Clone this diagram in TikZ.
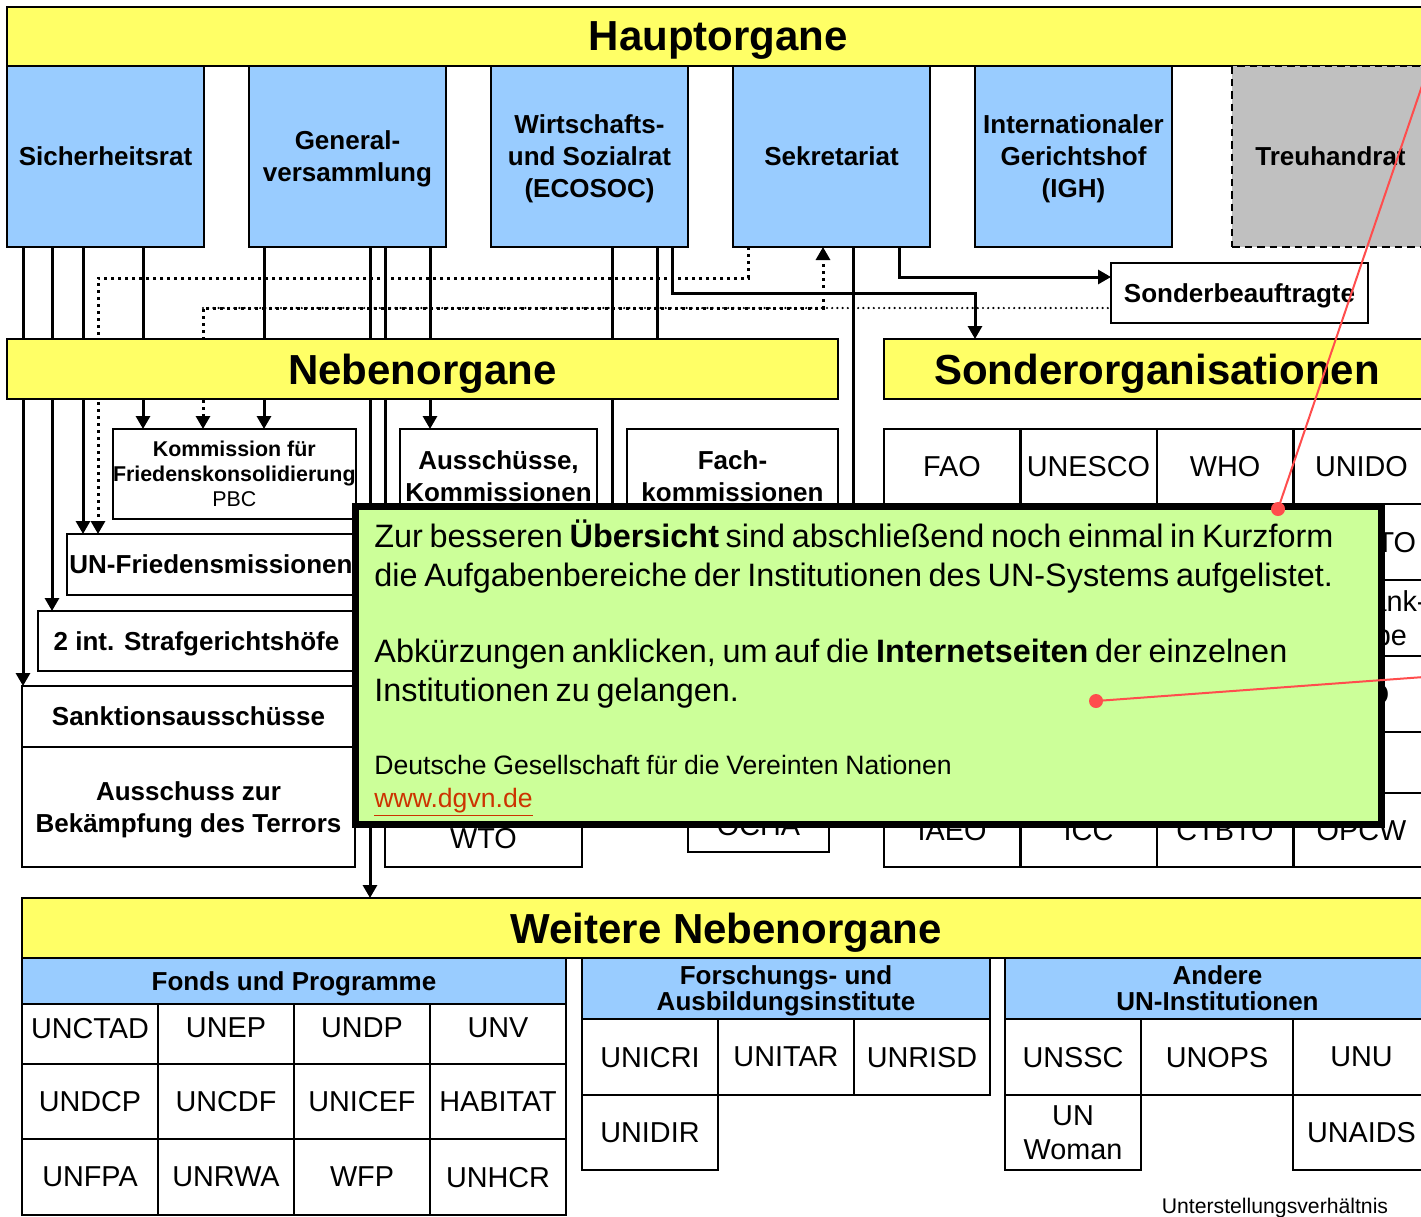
\documentclass[tikz,border=0pt]{standalone}
\usepackage{fontspec}
\setmainfont{Liberation Sans}
\usetikzlibrary{positioning,calc,arrows.meta}
\definecolor{baryellow}{HTML}{FFFF66}
\definecolor{organblue}{HTML}{99CCFF}
\definecolor{notegreen}{HTML}{CCFF99}
\definecolor{trustgray}{HTML}{C0C0C0}
\definecolor{pointred}{HTML}{FF4D4D}
\definecolor{linkred}{HTML}{CC3300}
\pgfdeclarelayer{background}
\pgfsetlayers{background,main}

\begin{document}
\begin{tikzpicture}[x=0.5pt, y=-0.5pt,
	barstyle/.style={draw, line width=1pt, fill=baryellow, minimum height=30pt,
	inner sep=0pt, outer sep=0pt, text depth=0pt, font=\fontsize{21}{25}\selectfont\bfseries},
	organstyle/.style={draw, line width=1pt, fill=organblue, minimum width=98.5pt,
	minimum height=90.5pt, inner sep=0pt, outer sep=0pt, align=center, text depth=0pt,
	font=\fontsize{13}{16}\selectfont\bfseries},
	boxstyle/.style={draw, line width=1pt, fill=white, inner sep=0pt, outer sep=0pt,
	align=center, text depth=0pt, font=\fontsize{13}{16}\selectfont\bfseries},
	cellstyle/.style={draw, line width=1pt, fill=white, minimum width=68pt,
	inner sep=0pt, outer sep=0pt, align=center, text depth=0pt, font=\fontsize{14.4}{17}\selectfont},
	headstyle/.style={draw, line width=1pt, fill=organblue, inner sep=0pt,
	outer sep=0pt, align=center, text depth=0pt, font=\fontsize{13}{13}\selectfont\bfseries},
	arrstyle/.style={line width=1.5pt, -{Triangle[width=7pt,length=6.5pt]}},
	dotstyle/.style={line width=1.5pt, dash pattern=on 1.5pt off 2pt},
	thindotstyle/.style={line width=1.2pt, line cap=round, dash pattern=on 0pt off 2.6pt},
	reddotstyle/.style={circle, fill=pointred, minimum size=7pt, inner sep=0pt},
	redstyle/.style={draw=pointred, line width=1pt}
	]
	\useasboundingbox (0,0) rectangle (1421,1217);
	\clip (0,0) rectangle (1421,1217);

	\node[barstyle, anchor=north west, minimum width=711.5pt, minimum height=29.5pt] (haupt) at (7,7) {Hauptorgane};
	\node[organstyle, anchor=north west] (sr) at (7,66) {Sicherheitsrat};
	\node[organstyle, right=22.5pt of sr] (ga) {General-\\versammlung};
	\node[organstyle, right=22.5pt of ga] (eco) {Wirtschafts-\\und Sozialrat\\(ECOSOC)};
	\node[organstyle, right=22.5pt of eco] (sek) {Sekretariat};
	\node[organstyle, right=22.5pt of sek] (igh) {Internationaler\\Gerichtshof\\(IGH)};
	\node[organstyle, right=30pt of igh, fill=trustgray, dash pattern=on 3.75pt off 2.5pt] (treu) {Treuhandrat};
	\node[boxstyle, anchor=north west, minimum width=128.5pt, minimum height=30pt] (sb) at (1111,263) {Sonderbeauftragte};

	\node[barstyle, anchor=north west, minimum width=415.5pt] (neben) at (7,339) {Nebenorgane};
	\node[barstyle, right=23pt of neben, minimum width=273pt] (sonder) {Sonderorganisationen};

	\node[boxstyle, anchor=north west, minimum width=121pt, minimum height=45pt,
	font=\fontsize{10.7}{12.5}\selectfont\bfseries] (pbc) at (113,429) {Kommission für\\Friedenskonsolidierung\\{\mdseries PBC}};
	\node[boxstyle, anchor=north west, minimum width=144pt, minimum height=30.5pt] (fried) at (67,534) {UN-Friedensmissionen};
	\node[boxstyle, anchor=north west, minimum width=158.5pt, minimum height=30pt] (straf) at (38,611) {2 int. Strafgerichtshöfe};
	\node[boxstyle, anchor=north west, minimum width=166.5pt, minimum height=30.5pt] (sank) at (22,686) {Sanktionsausschüsse};
	\node[boxstyle, below=0pt of sank, minimum width=166.5pt, minimum height=60pt] (terror) {Ausschuss zur\\Bekämpfung des Terrors};
	\node[boxstyle, anchor=north west, minimum width=98.5pt, minimum height=47pt] (aussch) at (400,429) {Ausschüsse,\\Kommissionen};
	\node[boxstyle, anchor=north west, minimum width=105.5pt, minimum height=47pt] (fach) at (627,429) {Fach-\\kommissionen};
	\node[cellstyle, anchor=north west, minimum width=98.5pt, minimum height=29pt] (wto) at (385,809) {WTO};
	\node[cellstyle, anchor=north west, minimum width=70.5pt, minimum height=27pt] (ocha) at (688,798) {OCHA};

	\foreach \name [count=\i from 0] in {FAO,UNESCO,WHO,UNIDO}
		\node[cellstyle, anchor=north west, minimum height=37.5pt] (soa\i) at (884+136.5*\i,429) {\name};
	\node[cellstyle, anchor=north west, minimum width=68.5pt, minimum height=38pt] (unwto) at (1293.5,504) {UNWTO};
	\node[cellstyle, below=0pt of unwto, minimum width=68.5pt, minimum height=38pt] (wb) {Weltbank-\\gruppe};
	\node[cellstyle, below=0pt of wb, minimum width=68.5pt, minimum height=38pt] (imo) {IMO};
	\node[cellstyle, below=0pt of imo, minimum width=68.5pt, minimum height=30.5pt] (sox) {};
	\foreach \name [count=\i from 0] in {IAEO,ICC,CTBTO,OPCW}
		\node[cellstyle, anchor=north west, minimum height=37pt] (sof\i) at (884+136.5*\i,793) {\name};

	\node[barstyle, anchor=north west, minimum width=704pt] (weiter) at (22,898) {Weitere Nebenorgane};

	\node[headstyle, anchor=north west, minimum width=272pt, minimum height=23pt] (fonds) at (22,958) {Fonds und Programme};
	\foreach \name [count=\i from 0] in {UNCTAD,UNEP,UNDP,UNV}
		\node[cellstyle, anchor=north west, minimum height=30pt, text depth=6pt] (fa\i) at (22+136*\i,1004) {\name};
	\foreach \name [count=\i from 0] in {UNDCP,UNCDF,UNICEF,HABITAT}
		\node[cellstyle, anchor=north west, minimum height=37.5pt] (fb\i) at (22+136*\i,1064) {\name};
	\foreach \name [count=\i from 0] in {UNFPA,UNRWA,WFP,UNHCR}
		\node[cellstyle, anchor=north west, minimum height=38pt] (fc\i) at (22+136*\i,1139) {\name};

	\node[headstyle, anchor=north west, minimum width=204pt, minimum height=30.5pt] (forsch) at (582,958) {Forschungs- und\\Ausbildungsinstitute};
	\foreach \name [count=\i from 0] in {UNICRI,UNITAR,UNRISD}
		\node[cellstyle, anchor=north west, minimum height=38pt] (fia\i) at (582+136*\i,1019) {\name};
	\node[cellstyle, below=0pt of fia0, minimum height=37.5pt] (unidir) {UNIDIR};

	\node[headstyle, anchor=north west, minimum width=212.5pt, minimum height=30.5pt] (andere) at (1005,958) {Andere\\UN-Institutionen};
	\node[cellstyle, anchor=north west, minimum height=38pt] (unssc) at (1005,1019) {UNSSC};
	\node[cellstyle, right=0pt of unssc, minimum width=76pt, minimum height=38pt] (unops) {UNOPS};
	\node[cellstyle, right=0pt of unops, minimum width=68.5pt, minimum height=38pt] (unu) {UNU};
	\node[cellstyle, below=0pt of unssc, minimum height=37.5pt] (unwomen) {UN\\Woman};
	\node[cellstyle, below=0pt of unu, minimum width=68.5pt, minimum height=37.5pt] (unaids) {UNAIDS};

	\node[inner sep=0pt, font=\fontsize{10.6}{12}\selectfont] (unterst) at (1275,1208) {Unterstellungsverhältnis};

	\coordinate (regio) at (612,640);
	\coordinate (sekdown) at (853,640);

	\begin{pgfonlayer}{background}
		\fill[white] (0,0) rectangle (1421,1217);
		\draw[arrstyle] ($(sr.south west)+(16,0)$) coordinate (s1) -- (s1 |- sank.north);
		\draw[arrstyle] ($(sr.south west)+(45,0)$) coordinate (s2) -- (s2 |- straf.north);
		\draw[arrstyle] ($(sr.south west)+(76,0)$) coordinate (s3) -- (s3 |- fried.north);
		\draw[arrstyle] ($(sr.south west)+(136,0)$) coordinate (s4) -- (s4 |- pbc.north);
		\draw[arrstyle] ($(ga.south west)+(15,0)$) coordinate (g1) -- (g1 |- pbc.north);
		\draw[arrstyle] ($(ga.south west)+(121,0)$) coordinate (g2) -- (g2 |- weiter.north);
		\draw[arrstyle] ($(ga.south west)+(136,0)$) coordinate (g3) -- (g3 |- wto.north);
		\draw[arrstyle] ($(ga.south west)+(181,0)$) coordinate (g4) -- (g4 |- aussch.north);
		\draw[line width=1.5pt] ($(eco.south west)+(121,0)$) coordinate (e1) -- (e1 |- regio);
		\draw[line width=1.5pt] ($(eco.south west)+(166,0)$) coordinate (e2) -- (e2 |- neben.north);
		\draw[arrstyle] ($(eco.south west)+(181,0)$) -- ++(0,46) -| ($(sonder.north west)+(91,0)$);
		\draw[line width=1.5pt] ($(sek.south west)+(120,0)$) coordinate (k1) -- (k1 |- sekdown);
		\draw[arrstyle] ($(sek.south west)+(166,0)$) |- ($(sb.north west)+(0,14)$);
		\draw[dotstyle, -{Triangle[width=7pt,length=6.5pt]}] ($(sek.south west)+(15,0)$) -- ++(0,31) -| ($(fried.north west)+(31,0)$);
		\draw[dotstyle, {Triangle[width=7pt,length=6.5pt]}-{Triangle[width=7pt,length=6.5pt]}] ($(pbc.north west)+(90,0)$) -- ++(0,-121) coordinate (junc) -| ($(sek.south west)+(90,0)$);
		\draw[thindotstyle] (junc) -- (junc -| sb.west);
	\end{pgfonlayer}

	\node[draw=black, line width=3.5pt, fill=notegreen, anchor=north west, minimum width=513pt,
	minimum height=159pt, inner sep=0pt, outer sep=0pt] (note) at (355.5,506) {};
	\node[anchor=north west, inner sep=0pt, text width=505pt, align=left] (notetext) at (374,519) {\parindent=0pt
		{\fontsize{16.2}{19.5}\selectfont Zur besseren \textbf{Übersicht} sind abschließend noch einmal in Kurzform\\
		die Aufgabenbereiche der Institutionen des UN-Systems aufgelistet.\par}
		\vspace{18.5pt}
		{\fontsize{16.2}{19.5}\selectfont Abkürzungen anklicken, um auf die \textbf{Internetseiten} der einzelnen\\
		Institutionen zu gelangen.\par}
		\vspace{20pt}
		{\fontsize{13.3}{16.5}\selectfont Deutsche Gesellschaft für die Vereinten Nationen\\
		\textcolor{linkred}{\underline{www.dgvn.de}}\par}};

	\node[reddotstyle] (d1) at (1278,509) {};
	\node[reddotstyle] (d2) at (1096,701) {};
	\coordinate (r1) at (1424,80);
	\coordinate (r2) at (1424,677);
	\draw[redstyle] (d1.center) -- (r1);
	\draw[redstyle] (d2.center) -- (r2);
\end{tikzpicture}
\end{document}
